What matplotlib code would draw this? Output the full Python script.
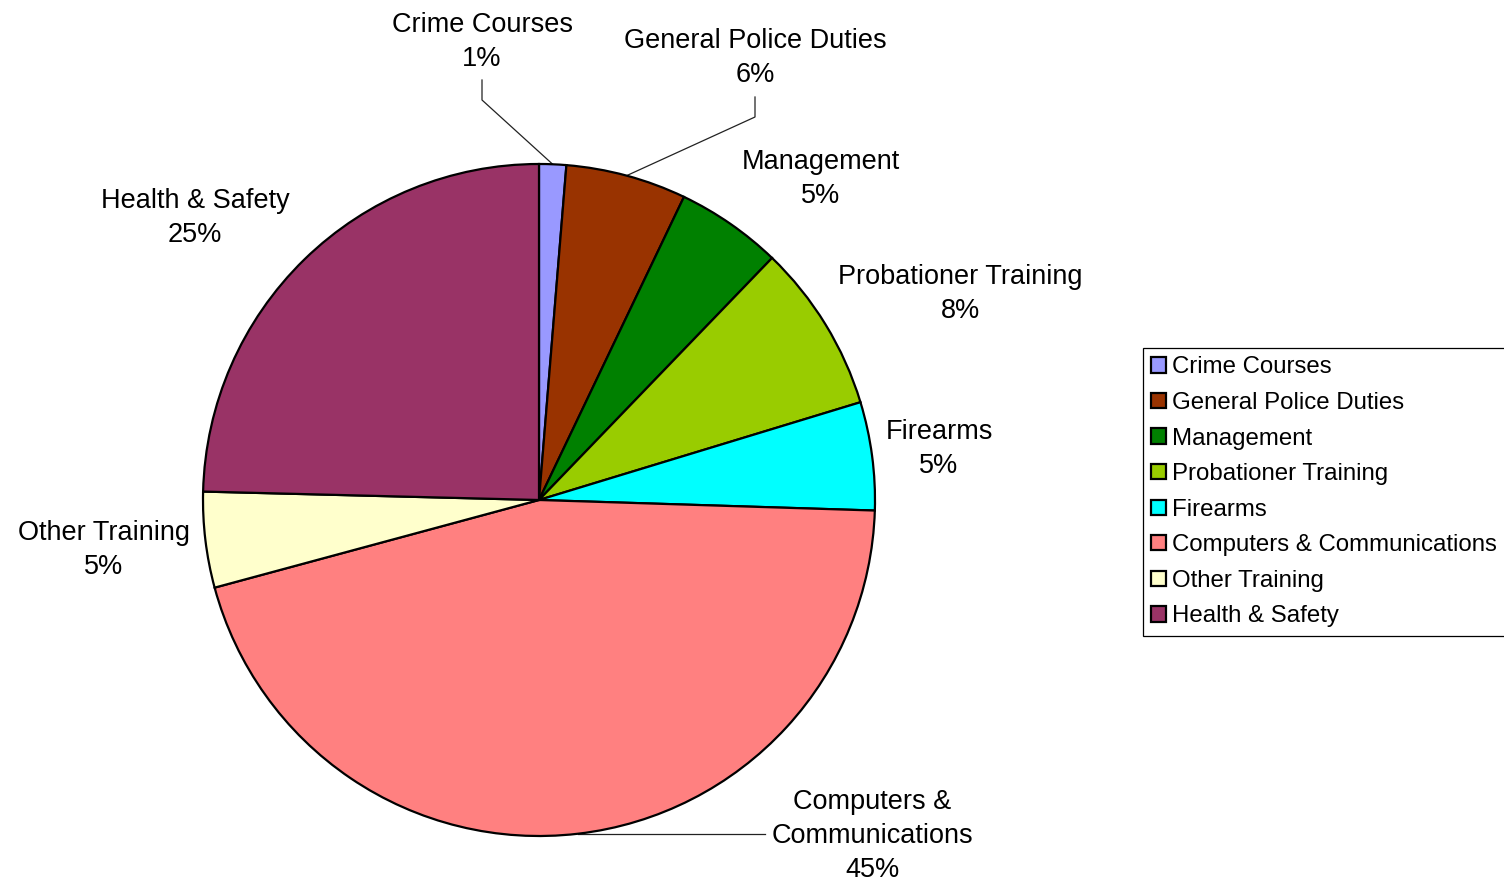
import numpy as np
import matplotlib.pyplot as plt

plt.rcParams['font.family'] = ['Liberation Sans', 'DejaVu Sans']

categories = ["Crime Courses", "General Police Duties", "Management",
              "Probationer Training", "Firearms", "Computers & Communications",
              "Other Training", "Health & Safety"]
shares = [1.3, 5.8, 5.1, 8.1, 5.2, 45.3, 4.6, 24.6]
colors = ["#9999FF", "#993300", "#008000", "#99CC00", "#00FFFF",
          "#FF8080", "#FFFFCC", "#993366"]

# label text as it appears beside each slice
slice_names = ["Crime Courses", "General Police Duties", "Management",
               "Probationer Training", "Firearms", "Computers &\nCommunications",
               "Other Training", "Health & Safety"]

W, H = 1504, 883


def px(x, y):
    # pixel position measured from the top-left corner -> data coords
    return x, H - y


fig = plt.figure(figsize=(W / 100, H / 100), dpi=100)
ax = fig.add_axes([0, 0, 1, 1])

center = px(539, 500)
radius = 336
wedges, _ = ax.pie(shares, colors=colors, startangle=90, counterclock=False,
                   center=center, radius=radius,
                   wedgeprops=dict(edgecolor='black', linewidth=1.6))

# pie() rescales the axes, so fix the pixel frame afterwards
ax.set_xlim(0, W)
ax.set_ylim(0, H)
ax.set_aspect('equal')
ax.axis('off')

total = sum(shares)
pcts = [f"{round(v / total * 100)}%" for v in shares]

# label centres (pixels from top-left)
label_pos = [(482, 42), (755, 58), (821, 179), (960, 294), (939, 449),
             (872, 836), (104, 550), (195, 218)]
for name, pct, (lx, ly) in zip(slice_names, pcts, label_pos):
    ax.text(*px(lx, ly), f"{name}\n{pct}", ha='center', va='center',
            fontsize=19.5, linespacing=1.42)


def edge_point(w):
    ang = np.deg2rad((w.theta1 + w.theta2) / 2)
    return center[0] + radius * np.cos(ang), center[1] + radius * np.sin(ang)


# leader lines for the labels that sit away from their slices
leaders = {0: [(482, 80), (482, 100)],
           1: [(755, 97), (755, 117)],
           5: [(765, 834)]}
for i, pts in leaders.items():
    ex, ey = edge_point(wedges[i])
    xs = [px(*p)[0] for p in pts]
    ys = [px(*p)[1] for p in pts]
    if i == 5:
        xs, ys = [ex] + xs, [H - 834] + ys
    else:
        xs, ys = xs + [ex], ys + [ey]
    ax.plot(xs, ys, color='#222222', linewidth=0.9, zorder=0)

leg = ax.legend(wedges, categories, loc='upper left',
                bbox_to_anchor=(1143 / W, 1 - 348 / H),
                bbox_transform=fig.transFigure, borderaxespad=0,
                fontsize=17.3, frameon=True, fancybox=False, framealpha=1,
                handlelength=0.6, handleheight=0.6, handletextpad=0.24,
                labelspacing=0.565, borderpad=0.35)
leg.get_frame().set_edgecolor('black')
leg.get_frame().set_linewidth(0.9)

fig.savefig("out.png", dpi=100)
